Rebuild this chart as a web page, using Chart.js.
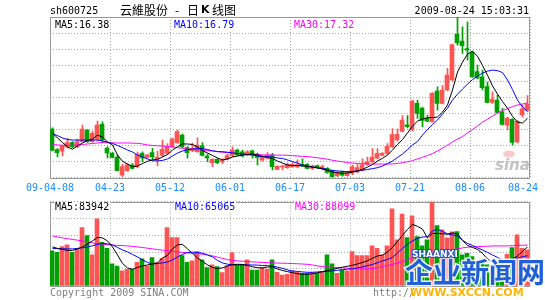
<!DOCTYPE html>
<html><head><meta charset="utf-8">
<script src="https://cdn.jsdelivr.net/npm/chart.js@4.4.0/dist/chart.umd.min.js"></script>
<style>
html,body{margin:0;padding:0;background:#fff;width:545px;height:300px;overflow:hidden}
#wrap{position:relative;width:545px;height:300px}
canvas{position:absolute;left:0;top:0}
</style></head><body>
<div id="wrap"><canvas id="price" width="545" height="300"></canvas><canvas id="vol" width="545" height="300"></canvas></div>
<script>
const stockCode = 'sh600725';
const titleParts = ['云維股份', '-', '日', 'K', '线图'];
const stamp = '2009-08-24 15:03:31';
const categories = ['04-08','04-09','04-10','04-13','04-14','04-15','04-16','04-17','04-20','04-21','04-22','04-23','04-24','04-27','04-28','04-29','04-30',
'05-04','05-05','05-06','05-07','05-08','05-11','05-12','05-13','05-14','05-15','05-18','05-19','05-20','05-21','05-22','05-25','05-26','05-27',
'06-01','06-02','06-03','06-04','06-05','06-08','06-09','06-10','06-11','06-12','06-15','06-16','06-17','06-18','06-19','06-22','06-23','06-24','06-25','06-26','06-29','06-30',
'07-01','07-02','07-03','07-06','07-07','07-08','07-09','07-10','07-13','07-14','07-15','07-16','07-17','07-20','07-21','07-22','07-23','07-24','07-27','07-28','07-29','07-30','07-31',
'08-03','08-04','08-05','08-06','08-07','08-10','08-11','08-12','08-13','08-14','08-17','08-18','08-19','08-20','08-21','08-24'];
const tickDates = ['04-08','04-23','05-12','06-01','06-17','07-03','07-21','08-06','08-24'];
const tickLabels = ['09-04-08','04-23','05-12','06-01','06-17','07-03','07-21','08-06','08-24'];
const priceTicks = ['12.770','13.747','14.724','15.701','16.678','17.655','18.632','19.609','20.586','21.563','22.540'];
const volTicks = ['36520','73039','109559','146078','182598'];

const opens = [15.73,14.48,14.39,14.64,14.90,14.65,14.96,15.67,14.96,15.12,16.01,14.57,14.25,14.03,12.93,13.20,13.54,13.42,14.25,14.00,14.29,13.91,14.12,14.24,14.65,14.90,15.36,14.60,14.42,14.35,14.71,14.09,13.69,13.88,13.74,13.89,14.12,14.45,14.35,14.15,14.41,14.21,13.83,13.95,14.15,13.27,13.42,13.38,13.44,13.42,13.58,13.58,13.33,13.51,13.37,13.34,13.20,12.89,13.12,12.90,13.03,13.12,13.24,13.57,13.74,13.95,14.13,14.24,14.65,15.06,15.59,15.99,15.67,17.29,16.99,16.38,16.17,18.04,17.29,18.10,18.71,21.48,21.08,20.62,20.39,19.22,18.91,18.31,17.34,17.49,16.76,15.97,16.32,14.94,16.58,16.88];
const highs = [15.80,14.54,14.76,15.18,14.97,15.12,15.97,15.70,15.61,16.21,16.17,14.65,14.33,14.15,13.58,13.63,13.63,14.33,14.35,14.21,14.56,14.39,15.06,14.85,15.18,15.67,15.42,14.66,14.88,15.20,14.90,14.21,13.94,13.94,13.94,14.21,14.65,14.51,14.45,14.42,14.45,14.27,14.12,14.30,14.25,13.51,13.54,13.66,13.69,13.85,13.91,13.63,13.54,13.54,13.54,13.39,13.24,13.15,13.18,13.18,13.54,13.58,13.91,14.03,14.54,14.54,14.30,14.85,15.76,15.73,16.54,16.54,17.49,17.49,17.06,16.58,17.95,18.30,18.37,19.42,20.89,22.54,21.94,22.25,20.44,19.62,19.31,18.58,17.99,17.79,16.99,16.46,16.37,16.25,17.19,17.76];
const lows = [14.40,14.03,14.09,14.57,14.60,14.60,14.94,14.91,14.91,14.99,14.88,13.97,13.97,13.18,12.85,13.15,13.30,13.36,13.74,13.97,13.85,13.50,14.06,14.18,14.60,14.85,14.60,13.95,14.36,14.30,14.09,13.74,13.44,13.63,13.63,13.85,14.03,14.09,14.03,14.09,13.95,13.54,13.79,13.91,13.24,13.24,13.24,13.33,13.39,13.36,13.45,13.30,13.27,13.33,13.24,13.03,12.77,12.84,12.87,12.87,12.96,13.06,13.18,13.51,13.69,13.91,14.09,14.18,14.60,14.99,15.55,15.79,15.61,16.38,15.87,16.18,16.15,16.88,17.25,18.04,18.65,20.83,20.33,19.92,18.86,18.77,18.10,17.31,17.28,16.70,15.97,15.67,14.76,14.88,16.46,16.82];
const closes = [14.45,14.29,14.70,14.91,14.65,14.96,15.73,14.96,15.47,15.97,15.06,14.27,14.01,13.20,13.44,13.57,13.34,14.18,13.97,14.15,14.03,14.03,14.50,14.65,15.12,15.58,14.65,14.29,14.56,14.76,14.12,13.97,13.88,13.68,13.82,14.12,14.45,14.15,14.09,14.35,14.15,14.01,14.05,14.15,13.44,13.46,13.46,13.57,13.58,13.57,13.50,13.34,13.48,13.38,13.45,13.09,12.83,13.10,12.93,13.07,13.44,13.38,13.56,13.74,14.03,14.25,14.25,14.68,15.39,15.41,16.28,15.87,17.43,16.68,16.25,16.21,17.90,17.29,18.10,19.01,20.87,20.97,20.80,20.53,18.91,18.83,18.24,17.35,17.55,16.74,16.01,16.40,14.91,16.20,16.96,17.25];
const ma5 = [15.49,15.18,14.91,14.64,14.50,14.70,14.88,15.03,15.12,15.36,15.24,14.94,14.76,14.15,13.77,13.60,13.44,13.48,13.63,13.77,13.85,13.88,14.03,14.18,14.45,14.65,14.82,14.82,14.79,14.64,14.42,14.27,14.12,13.97,13.85,13.91,14.03,14.09,14.15,14.18,14.21,14.15,14.07,14.00,13.94,13.78,13.66,13.54,13.51,13.51,13.48,13.45,13.42,13.36,13.30,13.21,13.12,13.06,13.04,13.06,13.12,13.18,13.27,13.42,13.57,13.78,13.95,14.15,14.45,14.79,15.09,15.49,15.91,16.21,16.34,16.42,16.42,16.46,16.76,17.19,18.10,19.19,19.80,20.28,20.47,20.15,19.60,19.00,18.35,17.85,17.40,17.00,16.50,16.15,16.09,16.38];
const ma10 = [15.43,15.33,15.18,15.09,15.06,15.06,15.06,15.06,15.06,15.06,15.00,14.94,14.85,14.73,14.60,14.45,14.33,14.15,14.03,13.91,13.80,13.79,13.82,13.91,14.09,14.27,14.39,14.48,14.51,14.54,14.54,14.48,14.41,14.36,14.35,14.32,14.28,14.24,14.21,14.18,14.15,14.09,14.05,14.05,14.03,13.97,13.94,13.85,13.75,13.66,13.54,13.48,13.42,13.38,13.34,13.27,13.21,13.18,13.16,13.13,13.15,13.18,13.22,13.27,13.32,13.38,13.48,13.63,13.78,14.00,14.21,14.48,14.76,14.97,15.36,15.70,16.00,16.28,16.64,17.00,17.49,17.85,18.16,18.46,18.73,18.95,19.13,19.25,19.31,19.28,19.16,18.71,18.13,17.49,17.07,16.79];
const ma30 = [14.79,14.76,14.74,14.73,14.74,14.76,14.79,14.82,14.85,14.88,14.90,14.90,14.89,14.88,14.88,14.88,14.87,14.86,14.82,14.76,14.73,14.71,14.70,14.67,14.64,14.59,14.56,14.51,14.50,14.47,14.45,14.42,14.39,14.35,14.32,14.29,14.27,14.24,14.21,14.19,14.18,14.17,14.16,14.15,14.15,14.14,14.14,14.13,14.11,14.09,14.07,14.05,14.02,13.98,13.94,13.89,13.83,13.78,13.74,13.69,13.66,13.64,13.62,13.61,13.60,13.60,13.60,13.60,13.61,13.64,13.68,13.74,13.81,13.91,14.01,14.12,14.24,14.39,14.57,14.76,14.94,15.12,15.27,15.49,15.70,15.91,16.15,16.33,16.52,16.70,16.85,16.97,17.09,17.19,17.25,17.32];
const volumes = [75400,72600,84800,88500,72600,79100,126100,108700,66700,145000,94300,81300,47200,42800,32000,35600,35600,50900,58000,42800,60900,50000,59600,126100,104400,104400,65200,50900,53700,73900,55900,39100,45000,41300,28300,43500,71700,45000,45000,55900,34100,34100,39100,36300,55900,29100,23300,24800,32000,29100,27000,27000,29100,27000,29100,66700,47200,27000,34100,32000,73900,65200,65200,65200,86300,81300,66700,86300,166700,99300,155200,104400,151500,106500,86300,99300,182000,130400,121000,104000,117000,117400,66700,70400,63000,50000,50000,45000,45000,45700,52200,68300,82600,110200,81300,77300];
const volMa5 = [84100,80900,78700,76500,76500,79800,84100,90700,97200,104800,103700,97200,84100,66700,48300,38500,35700,39600,42800,45000,47200,49400,60200,65700,79800,88500,89600,79800,70000,60200,52600,45000,39600,37400,38500,42800,45700,46500,46100,43900,41100,38900,38500,40700,40700,36300,33000,30400,28300,25900,24800,24800,25900,28000,30400,33000,35200,37800,40000,42200,44300,47200,50400,54100,59600,64600,66100,73300,83000,96100,109100,122200,133000,128700,122600,103700,113500,113500,112400,111700,114600,112400,98300,87400,83000,78700,70000,58000,50400,47200,48300,53700,58000,64600,74400,83942];
const volMa10 = [80900,80400,80200,79800,79800,80900,82400,84100,86700,89600,91700,90700,88500,83000,77600,73300,67800,62400,55900,50400,47200,48300,49400,51500,55900,62400,67800,72200,72600,72200,70400,66700,62400,54800,49400,46700,45000,45000,45000,45000,45000,44600,43900,43500,42800,40000,37800,34100,32000,30900,29800,29100,29100,29800,30400,31300,32000,33500,34800,35900,36700,38500,40700,43500,46100,49800,53700,57000,61300,71100,80900,89600,97200,102600,105400,106300,118900,122200,117800,112400,110200,108000,98300,91700,87400,82000,77600,72200,66700,61300,55900,52600,55900,60200,62800,65065];
const volMa30 = [108000,105900,103700,102000,100400,98700,97200,95000,92800,90700,90000,88900,88000,87400,87000,86300,85200,84100,82800,81300,79800,78500,77200,75900,74400,73300,72200,71100,70400,69600,68300,66700,64600,62000,59100,56500,54800,53700,53000,52400,51700,51100,50400,50000,49600,49100,48700,48500,48000,47600,47000,46300,45000,42800,41500,40700,40000,39300,38700,38000,37400,37000,36700,36700,37400,38900,41300,43900,46100,49400,52600,57000,60200,63500,65700,67800,70000,71700,73300,75400,77600,79800,82000,83500,84400,84800,85200,85700,86100,86300,86300,86300,86700,87400,87800,88099];

const UP = '#FF5454', DOWN = '#00A000', GRID = '#A8A8A8', FRAME = '#999999';
const MONO = '"DejaVu Sans Mono", "Liberation Mono", monospace';
const candleColors = opens.map((o, i) => closes[i] >= o ? UP : DOWN);
const tickPositions = tickDates.map((d, k) => categories.indexOf(d) + (k === 0 ? -0.5 : 0.5));
const N = categories.length;

function xScales() {
  return {
    x: {type: 'linear', min: -0.5, max: N - 0.5, offset: false,
      afterBuildTicks: s => { s.ticks = tickPositions.map(v => ({value: v})); },
      afterFit: s => { s.height = 0; },
      ticks: {display: false},
      grid: {color: GRID, drawTicks: false, lineWidth: 1, offset: false},
      border: {display: false, dash: [1, 2]}},
    xb: {type: 'linear', min: -0.4, max: N - 0.4, offset: false, display: false, grid: {offset: false}}
  };
}

function frame(chart) {
  const a = chart.chartArea, ctx = chart.ctx;
  ctx.save();
  ctx.strokeStyle = FRAME; ctx.lineWidth = 1;
  ctx.strokeRect(Math.round(a.left) + 0.5, Math.round(a.top) + 0.5, Math.round(a.right - a.left) - 1, Math.round(a.bottom - a.top));
  ctx.restore();
}

function legendText(ctx, text, x, y, color) {
  ctx.font = '10px ' + MONO;
  const w = ctx.measureText(text).width;
  ctx.fillStyle = '#fff';
  ctx.fillRect(x - 1, y - 5, w + 2, 11);
  ctx.fillStyle = color;
  ctx.fillText(text, x, y);
}

const pricePlugin = {
  id: 'priceDecor',
  beforeDatasetsDraw(chart) { frame(chart); },
  afterDraw(chart) {
    const ctx = chart.ctx, xs = chart.scales.x;
    ctx.save();
    ctx.textBaseline = 'middle';
    ctx.textAlign = 'left';
    ctx.font = '10px ' + MONO;
    ctx.fillStyle = '#000';
    ctx.fillText(stockCode, 50, 11);
    ctx.font = '12px "Noto Sans CJK SC", sans-serif';
    ctx.fillText(titleParts[0], 120, 10);
    ctx.fillText(titleParts[1], 175, 10);
    ctx.fillText(titleParts[2], 187, 10);
    ctx.font = 'bold 11px "DejaVu Sans", sans-serif';
    ctx.fillText(titleParts[3], 201, 10);
    ctx.font = '12px "Noto Sans CJK SC", sans-serif';
    ctx.fillText(titleParts[4], 212, 10);
    ctx.font = '10px ' + MONO;
    ctx.textAlign = 'right';
    ctx.fillText(stamp, 529, 11);
    ctx.textAlign = 'left';
    legendText(ctx, 'MA5:' + ma5[N - 1].toFixed(2), 55, 25, '#000');
    legendText(ctx, 'MA10:' + ma10[N - 1].toFixed(2), 174, 25, '#0000FF');
    legendText(ctx, 'MA30:' + ma30[N - 1].toFixed(2), 294, 25, '#FF00FF');
    ctx.font = '10px ' + MONO;
    ctx.fillStyle = '#1A8CFF';
    ctx.textAlign = 'center';
    tickLabels.forEach((t, k) => {
      let x = xs.getPixelForValue(tickPositions[k]);
      const w = ctx.measureText(t).width;
      if (x + w / 2 > 538) x = 538 - w / 2;
      ctx.fillText(t, x, 188);
    });
    ctx.textAlign = 'left';
    ctx.fillStyle = 'rgba(240,160,160,0.55)';
    ctx.beginPath(); ctx.ellipse(509, 154, 6, 3.5, 0, 0, Math.PI * 2); ctx.fill();
    ctx.font = 'italic bold 15px "DejaVu Sans", sans-serif';
    ctx.fillStyle = 'rgba(170,170,170,0.7)';
    ctx.fillText('sina', 495, 166);
    ctx.restore();
  }
};

new Chart(document.getElementById('price'), {
  type: 'bar',
  data: {datasets: [
    {type: 'line', data: ma5.map((v, i) => ({x: i, y: v})), borderColor: '#000000', borderWidth: 1, pointRadius: 0, order: 0, xAxisID: 'x'},
    {type: 'line', data: ma10.map((v, i) => ({x: i, y: v})), borderColor: '#0000FF', borderWidth: 1, pointRadius: 0, order: 0, xAxisID: 'x'},
    {type: 'line', data: ma30.map((v, i) => ({x: i, y: v})), borderColor: '#FF00FF', borderWidth: 1, pointRadius: 0, order: 0, xAxisID: 'x'},
    {type: 'bar', data: opens.map((o, i) => ({x: i, y: [o, closes[i]]})), backgroundColor: candleColors, borderWidth: 0, barThickness: 4, grouped: false, minBarLength: 1, order: 1, xAxisID: 'xb'},
    {type: 'bar', data: lows.map((l, i) => ({x: i, y: [l, highs[i]]})), backgroundColor: candleColors, borderWidth: 0, barThickness: 1, grouped: false, order: 2, xAxisID: 'x'}
  ]},
  options: {
    responsive: false, animation: false, devicePixelRatio: 1,
    layout: {padding: {left: 50, right: 15, top: 17, bottom: 122.3}},
    plugins: {legend: {display: false}, tooltip: {enabled: false}},
    scales: Object.assign(xScales(), {
      y: {type: 'linear', min: parseFloat(priceTicks[0]), max: parseFloat(priceTicks[priceTicks.length - 1]),
        afterBuildTicks: s => { s.ticks = priceTicks.map(t => ({value: parseFloat(t)})); },
        afterFit: s => { s.width = 0; },
        ticks: {color: '#FF0000', font: {family: MONO, size: 10}, padding: 3.5, autoSkip: false, callback: (v, i) => priceTicks[i]},
        grid: {color: GRID, drawTicks: false},
        border: {display: false, dash: [1, 2]}}
    })
  },
  plugins: [pricePlugin]
});

const volPlugin = {
  id: 'volDecor',
  beforeDatasetsDraw(chart) { frame(chart); },
  afterDraw(chart) {
    const ctx = chart.ctx;
    ctx.save();
    ctx.textBaseline = 'middle';
    ctx.textAlign = 'left';
    legendText(ctx, 'MA5:' + volMa5[N - 1], 55, 207, '#000');
    legendText(ctx, 'MA10:' + volMa10[N - 1], 175, 207, '#0000FF');
    legendText(ctx, 'MA30:' + volMa30[N - 1], 295, 207, '#FF00FF');
    ctx.font = '10px ' + MONO;
    ctx.fillStyle = '#808080';
    ctx.fillText('Copyright 2009 SINA.COM', 50, 293);
    ctx.fillText('http://', 373, 293);
    ctx.font = 'bold 28px "Noto Sans CJK SC", sans-serif';
    ctx.lineWidth = 3; ctx.strokeStyle = 'rgba(255,255,255,0.9)';
    ctx.strokeText('企业新闻网', 405, 272);
    ctx.fillStyle = '#1F5FD8';
    ctx.fillText('企业新闻网', 405, 272);
    ctx.font = 'bold 9px "DejaVu Sans", sans-serif';
    ctx.lineWidth = 2; ctx.strokeStyle = '#2050C0';
    ctx.strokeText('SHAANXI', 412, 255);
    ctx.fillStyle = '#ffffff';
    ctx.fillText('SHAANXI', 412, 255);
    ctx.font = 'bold 11px "DejaVu Sans", sans-serif';
    ctx.fillStyle = '#FFB400';
    ctx.fillText('WWW.SXCCN.COM', 410, 293);
    ctx.restore();
  }
};

new Chart(document.getElementById('vol'), {
  type: 'bar',
  data: {datasets: [
    {type: 'line', data: volMa5.map((v, i) => ({x: i, y: v})), borderColor: '#000000', borderWidth: 1, pointRadius: 0, order: 0, xAxisID: 'x'},
    {type: 'line', data: volMa10.map((v, i) => ({x: i, y: v})), borderColor: '#0000FF', borderWidth: 1, pointRadius: 0, order: 0, xAxisID: 'x'},
    {type: 'line', data: volMa30.map((v, i) => ({x: i, y: v})), borderColor: '#FF00FF', borderWidth: 1, pointRadius: 0, order: 0, xAxisID: 'x'},
    {type: 'bar', data: volumes.map((v, i) => ({x: i, y: v})), backgroundColor: candleColors, borderWidth: 0, barThickness: 4, grouped: false, order: 1, xAxisID: 'xb'}
  ]},
  options: {
    responsive: false, animation: false, devicePixelRatio: 1,
    layout: {padding: {left: 50, right: 15, top: 201.5, bottom: 14.3}},
    plugins: {legend: {display: false}, tooltip: {enabled: false}},
    scales: Object.assign(xScales(), {
      y: {type: 'linear', min: 0, max: parseInt(volTicks[volTicks.length - 1]),
        afterBuildTicks: s => { s.ticks = volTicks.map(t => ({value: parseInt(t)})); },
        afterFit: s => { s.width = 0; },
        ticks: {color: '#808080', font: {family: MONO, size: 8.5}, padding: 3.5, autoSkip: false, callback: (v, i) => volTicks[i]},
        grid: {color: GRID, drawTicks: false},
        border: {display: false, dash: [1, 2]}}
    })
  },
  plugins: [volPlugin]
});
</script>
</body></html>
